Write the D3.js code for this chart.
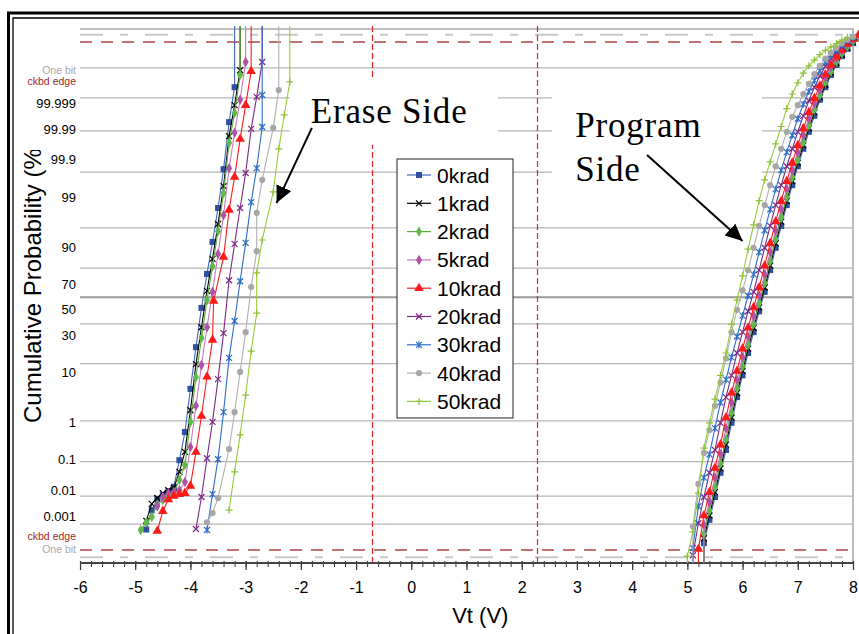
<!DOCTYPE html>
<html>
<head>
<meta charset="utf-8">
<script src="https://cdn.jsdelivr.net/npm/d3@7"></script>
<style>
  body { margin: 0; background: #fff; }
  svg { display: block; font-family: "Liberation Sans", Arial, sans-serif; }
</style>
</head>
<body>
<div id="chart"></div>
<script>
// ---- data (Vt in volts, cumulative probability in sigma units) ----
const seriesNames = ["0krad", "1krad", "2krad", "5krad", "10krad", "20krad", "30krad", "40krad", "50krad"];

const erase0 = [[-4.8,-4.53],[-4.7,-4.13],[-4.6,-3.90],[-4.5,-3.82],[-4.4,-3.74],[-4.3,-3.65],[-4.2,-3.10],[-4.1,-2.52],[-4.0,-1.63],[-3.9,-0.77],[-3.8,0.04],[-3.7,0.74],[-3.6,1.40],[-3.5,2.10],[-3.4,2.90],[-3.3,3.87],[-3.2,4.59]];
const erase1 = [[-4.8,-4.35],[-4.7,-4.00],[-4.6,-3.88],[-4.5,-3.78],[-4.4,-3.72],[-4.3,-3.67],[-4.2,-3.34],[-4.1,-2.93],[-4.0,-2.07],[-3.9,-1.12],[-3.8,-0.36],[-3.7,0.39],[-3.6,1.05],[-3.5,1.77],[-3.4,2.55],[-3.3,3.58],[-3.2,4.22],[-3.1,4.94]];
const erase2 = [[-4.9,-4.54],[-4.8,-4.38],[-4.7,-4.27],[-4.6,-4.02],[-4.5,-3.92],[-4.4,-3.84],[-4.3,-3.76],[-4.2,-3.51],[-4.1,-3.20],[-4.0,-2.31],[-3.9,-1.39],[-3.8,-0.58],[-3.7,0.20],[-3.6,0.90],[-3.5,1.62],[-3.4,2.41],[-3.3,3.44],[-3.2,4.06],[-3.1,4.84]];
const erase5 = [[-4.6,-4.05],[-4.5,-3.86],[-4.4,-3.78],[-4.3,-3.76],[-4.2,-3.72],[-4.1,-3.55],[-4.0,-2.83],[-3.9,-1.98],[-3.8,-1.14],[-3.7,-0.36],[-3.6,0.37],[-3.5,1.15],[-3.4,1.95],[-3.3,2.92],[-3.2,3.65],[-3.1,4.33],[-3.0,5.11]];
const erase10 = [[-4.6,-4.56],[-4.5,-4.15],[-4.4,-3.91],[-4.3,-3.84],[-4.2,-3.80],[-4.1,-3.78],[-4.0,-3.63],[-3.9,-2.93],[-3.8,-2.19],[-3.7,-1.38],[-3.6,-0.62],[-3.58,0.18],[-3.4,1.09],[-3.3,2.06],[-3.2,2.74],[-3.1,3.52],[-3.0,4.22],[-2.9,4.92]];
const erase20 = [[-3.9,-4.52],[-3.8,-3.86],[-3.7,-3.06],[-3.6,-2.31],[-3.5,-1.43],[-3.4,-0.48],[-3.3,0.61],[-3.2,1.36],[-3.1,2.10],[-3.0,2.82],[-2.9,3.73],[-2.8,4.39],[-2.7,5.11]];
const erase30 = [[-3.7,-4.54],[-3.6,-3.80],[-3.5,-3.08],[-3.4,-2.11],[-3.3,-0.99],[-3.2,-0.23],[-3.1,0.59],[-3.0,1.38],[-2.9,2.22],[-2.8,2.92],[-2.7,3.77],[-2.7,4.43]];
const erase40 = [[-3.7,-4.38],[-3.6,-4.19],[-3.5,-3.88],[-3.3,-2.87],[-3.2,-2.11],[-3.1,-1.28],[-3.0,-0.46],[-2.9,0.47],[-2.8,1.21],[-2.8,2.00],[-2.7,2.68],[-2.5,3.75],[-2.4,4.53]];
const erase50 = [[-3.3,-4.13],[-3.2,-3.34],[-3.1,-2.58],[-3.0,-1.76],[-2.9,-0.85],[-2.8,-0.07],[-2.8,0.76],[-2.7,1.44],[-2.5,2.43],[-2.4,3.32],[-2.3,4.02],[-2.2,4.70]];

const prog0 = [[5.3,-4.81],[5.4,-4.33],[5.5,-3.86],[5.6,-3.36],[5.7,-2.89],[5.8,-2.33],[5.9,-1.80],[6.0,-1.35],[6.1,-0.89],[6.2,-0.46],[6.3,-0.03],[6.4,0.37],[6.5,0.82],[6.6,1.28],[6.7,1.73],[6.8,2.16],[6.9,2.57],[7.0,2.96],[7.1,3.32],[7.2,3.67],[7.3,4.00],[7.4,4.33],[7.5,4.59],[7.6,4.84],[7.7,5.05],[7.8,5.23],[7.9,5.38],[8.0,5.50],[8.1,5.60]];
const prog1 = [[5.3,-4.71],[5.4,-4.24],[5.5,-3.76],[5.6,-3.27],[5.7,-2.78],[5.8,-2.22],[5.9,-1.71],[6.0,-1.26],[6.1,-0.80],[6.2,-0.37],[6.3,0.05],[6.4,0.46],[6.5,0.91],[6.6,1.37],[6.7,1.82],[6.8,2.24],[6.9,2.65],[7.0,3.03],[7.1,3.39],[7.2,3.74],[7.3,4.07],[7.4,4.38],[7.5,4.64],[7.6,4.88],[7.7,5.09],[7.8,5.26],[7.9,5.40],[8.0,5.52],[8.1,5.62]];
const prog2 = [[5.3,-4.62],[5.4,-4.14],[5.5,-3.66],[5.6,-3.17],[5.7,-2.67],[5.8,-2.12],[5.9,-1.62],[6.0,-1.17],[6.1,-0.72],[6.2,-0.29],[6.3,0.13],[6.4,0.55],[6.5,1.00],[6.6,1.46],[6.7,1.90],[6.8,2.32],[6.9,2.73],[7.0,3.10],[7.1,3.46],[7.2,3.80],[7.3,4.13],[7.4,4.43],[7.5,4.69],[7.6,4.92],[7.7,5.12],[7.8,5.29],[7.9,5.43],[8.0,5.54],[8.1,5.63]];
const prog5 = [[5.3,-4.43],[5.4,-3.96],[5.5,-3.46],[5.6,-2.98],[5.7,-2.44],[5.8,-1.91],[5.9,-1.44],[6.0,-0.98],[6.1,-0.55],[6.2,-0.12],[6.3,0.29],[6.4,0.73],[6.5,1.19],[6.6,1.64],[6.7,2.07],[6.8,2.49],[6.9,2.88],[7.0,3.25],[7.1,3.60],[7.2,3.94],[7.3,4.26],[7.4,4.54],[7.5,4.79],[7.6,5.01],[7.7,5.19],[7.8,5.35],[7.9,5.48],[8.0,5.58],[8.1,5.66]];
const prog10 = [[5.2,-4.93],[5.3,-4.24],[5.4,-3.76],[5.5,-3.26],[5.6,-2.78],[5.7,-2.22],[5.8,-1.71],[5.9,-1.26],[6.0,-0.80],[6.1,-0.37],[6.2,0.05],[6.3,0.46],[6.4,0.91],[6.5,1.37],[6.6,1.82],[6.7,2.24],[6.8,2.65],[6.9,3.03],[7.0,3.39],[7.1,3.74],[7.2,4.07],[7.3,4.36],[7.4,4.62],[7.5,4.85],[7.6,5.05],[7.7,5.22],[7.8,5.36],[7.9,5.48],[8.0,5.58],[8.1,5.66]];
const prog20 = [[5.1,-5.06],[5.2,-4.40],[5.3,-3.86],[5.4,-3.36],[5.5,-2.89],[5.6,-2.33],[5.7,-1.80],[5.8,-1.35],[5.9,-0.89],[6.0,-0.46],[6.1,-0.03],[6.2,0.37],[6.3,0.82],[6.4,1.28],[6.5,1.73],[6.6,2.16],[6.7,2.57],[6.8,2.96],[6.9,3.32],[7.0,3.67],[7.1,4.00],[7.2,4.31],[7.3,4.59],[7.4,4.82],[7.5,5.02],[7.6,5.18],[7.7,5.32],[7.8,5.43],[7.9,5.52],[8.0,5.60]];
const prog30 = [[5.1,-4.91],[5.2,-4.05],[5.3,-3.46],[5.4,-2.98],[5.5,-2.44],[5.6,-1.91],[5.7,-1.44],[5.8,-0.98],[5.9,-0.55],[6.0,-0.12],[6.1,0.29],[6.2,0.73],[6.3,1.19],[6.4,1.64],[6.5,2.07],[6.6,2.49],[6.7,2.88],[6.8,3.25],[6.9,3.60],[7.0,3.94],[7.1,4.24],[7.2,4.50],[7.3,4.73],[7.4,4.93],[7.5,5.10],[7.6,5.24],[7.7,5.36],[7.8,5.46],[7.9,5.55],[8.0,5.62]];
const prog40 = [[5.1,-4.47],[5.2,-3.59],[5.3,-2.95],[5.4,-2.48],[5.5,-1.98],[5.6,-1.50],[5.7,-1.00],[5.8,-0.46],[5.9,0.00],[6.0,0.40],[6.1,0.82],[6.2,1.28],[6.3,1.73],[6.4,2.16],[6.5,2.57],[6.6,2.96],[6.7,3.32],[6.8,3.67],[6.9,3.98],[7.0,4.22],[7.1,4.45],[7.2,4.66],[7.3,4.86],[7.4,5.03],[7.5,5.18],[7.6,5.30],[7.7,5.40],[7.8,5.49],[7.9,5.57],[8.0,5.63]];
const prog50 = [[5.0,-5.08],[5.1,-4.58],[5.2,-3.78],[5.3,-2.85],[5.4,-2.33],[5.5,-1.84],[5.6,-1.35],[5.7,-0.89],[5.8,-0.30],[5.9,0.20],[6.0,0.70],[6.1,1.25],[6.2,1.75],[6.3,2.25],[6.4,2.68],[6.5,3.05],[6.6,3.42],[6.7,3.78],[6.8,4.15],[6.9,4.45],[7.0,4.68],[7.1,4.88],[7.2,5.03],[7.3,5.15],[7.4,5.26],[7.5,5.35],[7.6,5.42],[7.7,5.49],[7.8,5.56],[7.9,5.62]];

const eraseData = [erase0, erase1, erase2, erase5, erase10, erase20, erase30, erase40, erase50];
const progData = [prog0, prog1, prog2, prog5, prog10, prog20, prog30, prog40, prog50];

// y axis: probability ticks (%) and grid lines (sigma)
const probTicks = [0.001, 0.01, 0.1, 1, 10, 30, 50, 70, 90, 99, 99.9, 99.99, 99.999];
const probTickLabels = ["0.001", "0.01", "0.1", "1", "10", "30", "50", "70", "90", "99", "99.9", "99.99", "99.999"];
const gridSigma = [-4.42, -3.84, -3.13, -2.29, -1.11, -0.29, 0.26, 0.86, 1.69, 2.84, 3.69, 4.37, 4.99];
const limitLabels = ["One bit", "ckbd edge", "ckbd edge", "One bit"];
const limitLabelSigma = [4.94, 4.72, -4.66, -4.94];
const oneBitSigma = [5.67, -5.10];
const ckbdSigma = [5.52, -4.95];
const readVt = [-0.72, 2.28];

// ---- styles ----
const seriesStyle = [
  { line: "#4466bb", mark: "#2f4f9f", shape: "square" },
  { line: "#000000", mark: "#000000", shape: "x" },
  { line: "#5cae3c", mark: "#62b94a", shape: "diamond" },
  { line: "#c77bbf", mark: "#b052a6", shape: "diamond" },
  { line: "#ff1a1a", mark: "#ff1a1a", shape: "triangle" },
  { line: "#7c2a83", mark: "#7c2a83", shape: "x" },
  { line: "#2e6ec6", mark: "#2e6ec6", shape: "star" },
  { line: "#b0b0b0", mark: "#a6a6a6", shape: "circle" },
  { line: "#9acb3c", mark: "#8cc236", shape: "plus" }
];

// inverse normal CDF (Acklam)
function probit(p) {
  const a = [-3.969683028665376e+01, 2.209460984245205e+02, -2.759285104469687e+02, 1.383577518672690e+02, -3.066479806614716e+01, 2.506628277459239e+00];
  const b = [-5.447609879822406e+01, 1.615858368580409e+02, -1.556989798598866e+02, 6.680131188771972e+01, -1.328068155288572e+01];
  const c = [-7.784894002430293e-03, -3.223964580411365e-01, -2.400758277161838e+00, -2.549732539343734e+00, 4.374664141464968e+00, 2.938163982698783e+00];
  const d = [7.784695709041462e-03, 3.224671290700398e-01, 2.445134137142996e+00, 3.754408661907416e+00];
  const pl = 0.02425;
  let q, r;
  if (p < pl) {
    q = Math.sqrt(-2 * Math.log(p));
    return (((((c[0]*q+c[1])*q+c[2])*q+c[3])*q+c[4])*q+c[5]) / ((((d[0]*q+d[1])*q+d[2])*q+d[3])*q+1);
  }
  if (p <= 1 - pl) {
    q = p - 0.5; r = q * q;
    return (((((a[0]*r+a[1])*r+a[2])*r+a[3])*r+a[4])*r+a[5])*q / (((((b[0]*r+b[1])*r+b[2])*r+b[3])*r+b[4])*r+1);
  }
  q = Math.sqrt(-2 * Math.log(1 - p));
  return -(((((c[0]*q+c[1])*q+c[2])*q+c[3])*q+c[4])*q+c[5]) / ((((d[0]*q+d[1])*q+d[2])*q+d[3])*q+1);
}

const width = 859, height = 634;
const svg = d3.select("#chart").append("svg")
  .attr("width", width)
  .attr("height", height);

const x = d3.scaleLinear().domain([-6, 8]).range([80, 853]);
const y = d3.scaleLinear().domain([-5.22, 5.79]).range([563, 29]);

const defs = svg.append("defs");
defs.append("clipPath").attr("id", "plotClip")
  .append("rect").attr("x", 80).attr("y", 26).attr("width", 790).attr("height", 537);
defs.append("clipPath").attr("id", "titleClip")
  .append("rect").attr("x", 0).attr("y", 150).attr("width", 80).attr("height", 484);
defs.append("marker").attr("id", "arrowHead")
  .attr("markerUnits", "userSpaceOnUse")
  .attr("markerWidth", 20).attr("markerHeight", 20)
  .attr("refX", 17).attr("refY", 8).attr("orient", "auto")
  .append("path").attr("d", "M0,0L17,8L0,16Z").attr("fill", "#000");

// outer double frame
svg.append("path").attr("d", "M8.5,640V13H870").attr("fill", "none").attr("stroke", "#000").attr("stroke-width", 3);
svg.append("path").attr("d", "M13,640V18H870").attr("fill", "none").attr("stroke", "#000").attr("stroke-width", 1.3);

// horizontal grid
svg.append("g").selectAll("line").data(gridSigma).join("line")
  .attr("x1", x(-6)).attr("x2", x(8))
  .attr("y1", d => y(d)).attr("y2", d => y(d))
  .attr("stroke", d => d === 0.26 ? "#9a9a9a" : "#b4b4b4")
  .attr("stroke-width", d => d === 0.26 ? 2 : 1.2);

// plot border (top and right)
svg.append("path")
  .attr("d", `M${x(-6)},${y.range()[1]}H${x(8)}V${y.range()[0]}`)
  .attr("fill", "none").attr("stroke", "#bdbdbd").attr("stroke-width", 2);

// one bit / checkerboard edge dashed limits
svg.append("g").selectAll("line").data(oneBitSigma).join("line")
  .attr("x1", x(-6)).attr("x2", x(8))
  .attr("y1", d => y(d)).attr("y2", d => y(d))
  .attr("stroke", "#c8c8c8").attr("stroke-width", 2)
  .attr("stroke-dasharray", "23,17,8,17");
svg.append("g").selectAll("line").data(ckbdSigma).join("line")
  .attr("x1", x(-6)).attr("x2", x(8))
  .attr("y1", d => y(d)).attr("y2", d => y(d))
  .attr("stroke", "#b04444").attr("stroke-width", 1.5)
  .attr("stroke-dasharray", "12,9");

// vertical read-level lines
svg.append("g").selectAll("line").data(readVt).join("line")
  .attr("x1", d => Math.round(x(d)) + 0.5).attr("x2", d => Math.round(x(d)) + 0.5)
  .attr("y1", 26).attr("y2", y.range()[0])
  .attr("stroke", "#e8202a").attr("stroke-width", 1.2)
  .attr("stroke-dasharray", "6,3");

// white text boxes hiding grid
const boxes = [
  { v0: -2.2, v1: 1.57, s0: 3.40, s1: 4.76 },
  { v0: 2.55, v1: 6.35, s0: 2.47, s1: 4.63 }
];
svg.append("g").selectAll("rect").data(boxes).join("rect")
  .attr("x", d => x(d.v0)).attr("width", d => x(d.v1) - x(d.v0))
  .attr("y", d => y(d.s1)).attr("height", d => y(d.s0) - y(d.s1))
  .attr("fill", "#fff");

// x axis
const xAxisG = svg.append("g").attr("transform", `translate(0,${y.range()[0]})`);
xAxisG.call(d3.axisBottom(x).tickValues(d3.range(-6, 8.05, 0.2)).tickSize(4).tickFormat(""));
xAxisG.selectAll(".tick line").attr("y1", -2).attr("stroke", "#333");
const xMajor = svg.append("g").attr("transform", `translate(0,${y.range()[0]})`);
xMajor.call(d3.axisBottom(x).tickValues(d3.range(-6, 9, 1)).tickSize(7).tickPadding(12).tickFormat(d => String(d)));
xMajor.selectAll(".tick line").attr("y1", -2).attr("stroke", "#333").attr("stroke-width", 1.2);
xMajor.selectAll(".tick text").attr("font-size", 16).attr("fill", "#000")
  .attr("font-family", "Liberation Sans, Arial, sans-serif");
svg.selectAll(".domain").remove();
svg.append("line").attr("x1", x(-6)).attr("x2", x(8))
  .attr("y1", y.range()[0]).attr("y2", y.range()[0])
  .attr("stroke", "#444").attr("stroke-width", 2);

svg.append("text").attr("x", x(1.25)).attr("y", 623)
  .attr("text-anchor", "middle").attr("font-size", 22).text("Vt (V)");

// y tick labels
svg.append("g").selectAll("text").data(probTicks).join("text")
  .attr("x", 76).attr("y", d => y(probit(d / 100)))
  .attr("dy", "0.35em").attr("text-anchor", "end")
  .attr("font-size", 13).attr("fill", "#000")
  .text((d, i) => probTickLabels[i]);
svg.append("g").selectAll("text").data(limitLabels).join("text")
  .attr("x", 76).attr("y", (d, i) => y(limitLabelSigma[i]))
  .attr("dy", "0.35em").attr("text-anchor", "end")
  .attr("font-size", 10.5)
  .attr("fill", d => d === "One bit" ? "#a8a8a8" : "#9b2a2a")
  .text(d => d);

svg.append("g").attr("clip-path", "url(#titleClip)")
  .append("text")
  .attr("transform", "translate(41,423) rotate(-90)")
  .attr("font-size", 24).attr("fill", "#000").text("Cumulative Probability (%)");

// series
const line = d3.line().x(d => x(d[0])).y(d => y(d[1]));

function drawMarker(g, shape, color) {
  if (shape === "x") {
    g.append("path").attr("d", "M-3,-3L3,3M-3,3L3,-3").attr("stroke", color).attr("stroke-width", 1.2).attr("fill", "none");
  } else if (shape === "star") {
    g.append("path").attr("d", "M-3,-3L3,3M-3,3L3,-3M0,-3.5L0,3.5").attr("stroke", color).attr("stroke-width", 1.2).attr("fill", "none");
  } else if (shape === "plus") {
    g.append("path").attr("d", "M-3.5,0L3.5,0M0,-3.5L0,3.5").attr("stroke", color).attr("stroke-width", 1.2).attr("fill", "none");
  } else {
    const sym = { square: d3.symbolSquare, diamond: d3.symbolDiamond, triangle: d3.symbolTriangle, circle: d3.symbolCircle }[shape];
    const size = { square: 36, diamond: 32, triangle: 40, circle: 30 }[shape];
    g.append("path").attr("d", d3.symbol(sym, size)()).attr("fill", color);
  }
}

const plot = svg.append("g").attr("clip-path", "url(#plotClip)");
seriesNames.forEach((name, i) => {
  const st = seriesStyle[i];
  const er = eraseData[i];
  const pr = progData[i];
  const eraseLine = er.concat([[er[er.length - 1][0], 6.5]]);
  const progLine = [[pr[0][0], -6.5]].concat(pr);
  const g = plot.append("g").attr("class", "series-" + name);
  [eraseLine, progLine].forEach(pts => {
    g.append("path").attr("d", line(pts))
      .attr("fill", "none").attr("stroke", st.line).attr("stroke-width", 1.1);
  });
  er.concat(pr).forEach(p => {
    const m = g.append("g").attr("transform", `translate(${x(p[0])},${y(p[1])})`);
    drawMarker(m, st.shape, st.mark);
  });
});

// annotations
const notes = [
  { lines: ["Erase Side"], v: -1.82, s: 3.85, from: [-1.80, 3.75], to: [-2.44, 2.20] },
  { lines: ["Program", "Side"], v: 2.97, s: 3.56, from: [4.27, 3.19], to: [6.00, 1.42] }
];
notes.forEach(n => {
  n.lines.forEach((t, j) => {
    svg.append("text").attr("x", x(n.v)).attr("y", y(n.s) + j * 44)
      .attr("font-family", "'Palatino Linotype', 'Book Antiqua', 'Liberation Serif', serif")
      .attr("font-size", 35).attr("letter-spacing", 0.8).attr("fill", "#000").text(t);
  });
  svg.append("line")
    .attr("x1", x(n.from[0])).attr("y1", y(n.from[1]))
    .attr("x2", x(n.to[0])).attr("y2", y(n.to[1]))
    .attr("stroke", "#000").attr("stroke-width", 2)
    .attr("marker-end", "url(#arrowHead)");
});

// legend
const legend = svg.append("g").attr("transform", "translate(397,159)");
legend.append("rect").attr("width", 116).attr("height", 259)
  .attr("fill", "#fff").attr("stroke", "#222").attr("stroke-width", 1);
seriesNames.forEach((name, i) => {
  const row = legend.append("g").attr("transform", `translate(0,${16 + i * 28.3})`);
  row.append("line").attr("x1", 10).attr("x2", 34)
    .attr("stroke", seriesStyle[i].line).attr("stroke-width", 1.2);
  const m = row.append("g").attr("transform", "translate(22,0)");
  drawMarker(m, seriesStyle[i].shape, seriesStyle[i].mark);
  row.append("text").attr("x", 40).attr("dy", "0.36em")
    .attr("font-size", 21).attr("fill", "#000").text(name);
});
</script>
</body>
</html>
